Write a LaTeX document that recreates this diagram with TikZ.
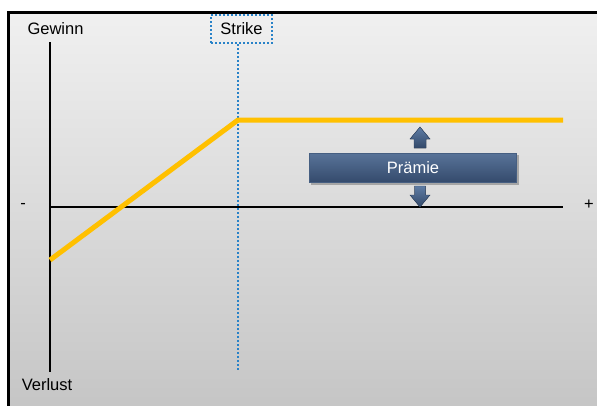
\documentclass[tikz,border=0pt]{standalone}
\usepackage{fontspec}
\setmainfont{Liberation Sans}
\begin{document}
\begin{tikzpicture}[x=1pt,y=-1pt,
  lbl/.style={font=\fontsize{16.5}{18}\selectfont, inner sep=0pt, text=black},
  axis/.style={line width=2pt, black},
  payoff/.style={line width=5pt, color={rgb,255:red,255;green,192;blue,0}, line join=round},
  strikeline/.style={line width=2.2pt, dash pattern=on 2pt off 2pt, color={rgb,255:red,40;green,130;blue,200}},
  fatarrow/.style={top color={rgb,255:red,95;green,125;blue,165}, bottom color={rgb,255:red,50;green,72;blue,105}, draw={rgb,255:red,45;green,65;blue,95}, line width=0.4pt}
]
\useasboundingbox (0,0) rectangle (597,405);
\clip (0,0) rectangle (597,405);
% background panel
\shade[top color={rgb,255:red,240;green,240;blue,240}, bottom color={rgb,255:red,196;green,196;blue,196}] (8.5,12) rectangle (610,420);
\draw[line width=3pt] (8.5,420) -- (8.5,12) -- (610,12);
% coordinates
\coordinate (ytop) at (50,42);
\coordinate (ybot) at (50,372);
\coordinate (xl) at (50,207);
\coordinate (xr) at (563,207);
\coordinate (p0) at (50,260);
\coordinate (pk) at (238,120);
\coordinate (p1) at (563,120);
\coordinate (sbot) at (238,372);
% axes
\draw[axis] (ytop) -- (ybot);
\draw[axis] (xl) -- (xr);
% labels
\node[lbl] (gewinn) at (55.5,29) {Gewinn};
\node[lbl] (verlust) at (47,385) {Verlust};
\node[lbl] (minus) at (23,206) {-};
\node[lbl] (plus) at (589,205) {+};
% strike
\node[lbl, draw={rgb,255:red,40;green,130;blue,200}, dash pattern=on 2pt off 2pt, line width=2.2pt, minimum width=61pt, minimum height=28pt] (strike) at (241.5,29) {Strike};
\draw[strikeline] (strike.south -| sbot) -- (sbot);
% payoff
\draw[payoff] (p0) -- (pk) -- (p1);
% premium box
\fill[black, opacity=0.25] (311,155) rectangle (519,185);
\node[lbl, text=white, minimum width=207pt, minimum height=29pt, top color={rgb,255:red,88;green,115;blue,152}, bottom color={rgb,255:red,52;green,74;blue,108}, draw={rgb,255:red,70;green,95;blue,130}, line width=0.6pt] (praemie) at (413,168) {Prämie};
% arrows
\fill[fatarrow] (420,127) -- (430,139) -- (426,139) -- (426,148) -- (414,148) -- (414,139) -- (410,139) -- cycle;
\fill[fatarrow] (420,207) -- (430,195) -- (425.5,195) -- (425.5,186) -- (414.5,186) -- (414.5,195) -- (410,195) -- cycle;
\end{tikzpicture}
\end{document}
